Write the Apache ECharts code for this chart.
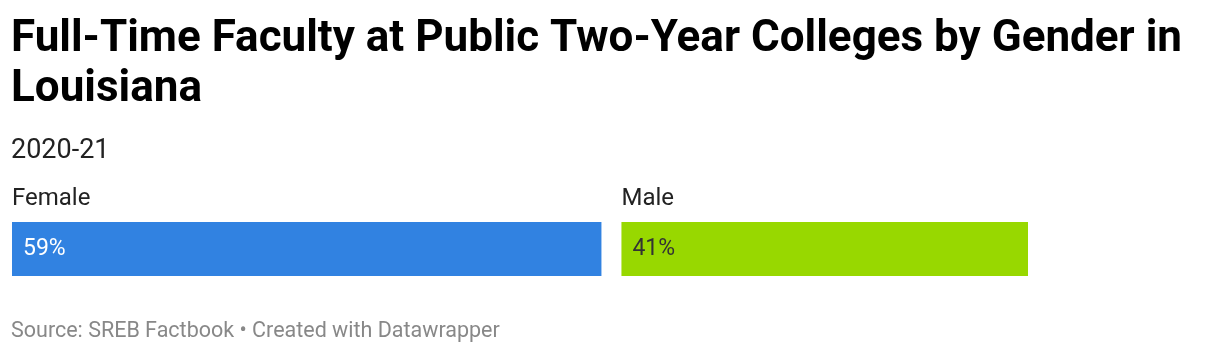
<!DOCTYPE html>
<html>
<head>
<meta charset="utf-8">
<script src="https://cdn.jsdelivr.net/npm/echarts@6/dist/echarts.min.js"></script>
<style>
  html, body { margin: 0; padding: 0; background: #fff; }
  #chart { width: 1220px; height: 352px; }
</style>
</head>
<body>
<div id="chart"></div>
<script>
// data
const categories = ['Female', 'Male']
const shares = [59, 41]
const colors = ['#3182e1', '#98d800']
const labelColors = ['#ffffff', '#333333']

const chart = echarts.init(document.getElementById('chart'))

// cumulative segments of the stacked bar
let acc = 0
const segments = shares.map((v, i) => {
  const seg = [acc, acc + v, i]
  acc += v
  return seg
})

const gap = 20

const option = {
  animation: false,
  backgroundColor: '#fff',
  textStyle: { fontFamily: 'Roboto' },
  title: [
    {
      text: 'Full-Time Faculty at Public Two-Year Colleges by Gender in\nLouisiana',
      left: 11,
      top: 15,
      padding: 0,
      textStyle: { fontFamily: 'Roboto', fontSize: 44, fontWeight: 'bold', color: '#000', lineHeight: 50 }
    },
    {
      text: '2020-21',
      left: 11,
      top: 135,
      padding: 0,
      textStyle: { fontFamily: 'Roboto', fontSize: 27, fontWeight: 'normal', color: '#222', lineHeight: 32 }
    },
    {
      text: 'Source: SREB Factbook • Created with Datawrapper',
      left: 11,
      top: 320,
      padding: 0,
      textStyle: { fontFamily: 'Roboto', fontSize: 21.5, fontWeight: 'normal', color: '#888', lineHeight: 24 }
    }
  ],
  grid: { left: 12, width: 1016, top: 222, height: 54 },
  xAxis: { type: 'value', min: 0, max: 100, show: false },
  yAxis: { type: 'category', data: ['2020-21'], show: false },
  series: [
    {
      type: 'custom',
      encode: { x: [0, 1], y: -1 },
      data: segments,
      renderItem(params, api) {
        const i = api.value(2)
        const p0 = api.coord([api.value(0), 0])
        const p1 = api.coord([api.value(1), 0])
        const h = api.size([0, 1])[1]
        const x0 = p0[0] + (i > 0 ? gap / 2 : 0)
        const x1 = p1[0] - (i < shares.length - 1 ? gap / 2 : 0)
        const y = p0[1] - h / 2
        return {
          type: 'group',
          children: [
            { type: 'rect', shape: { x: x0, y: y, width: x1 - x0, height: h }, style: { fill: colors[i] } },
            {
              type: 'text',
              style: { text: categories[i], x: x0, y: y - 11, verticalAlign: 'bottom', fontFamily: 'Roboto', fontSize: 24, fill: '#222' }
            },
            {
              type: 'text',
              style: { text: shares[i] + '%', x: x0 + 11, y: y + h / 2, verticalAlign: 'middle', fontFamily: 'Roboto', fontSize: 23, fill: labelColors[i] }
            }
          ]
        }
      }
    }
  ]
}

chart.setOption(option)
</script>
</body>
</html>
